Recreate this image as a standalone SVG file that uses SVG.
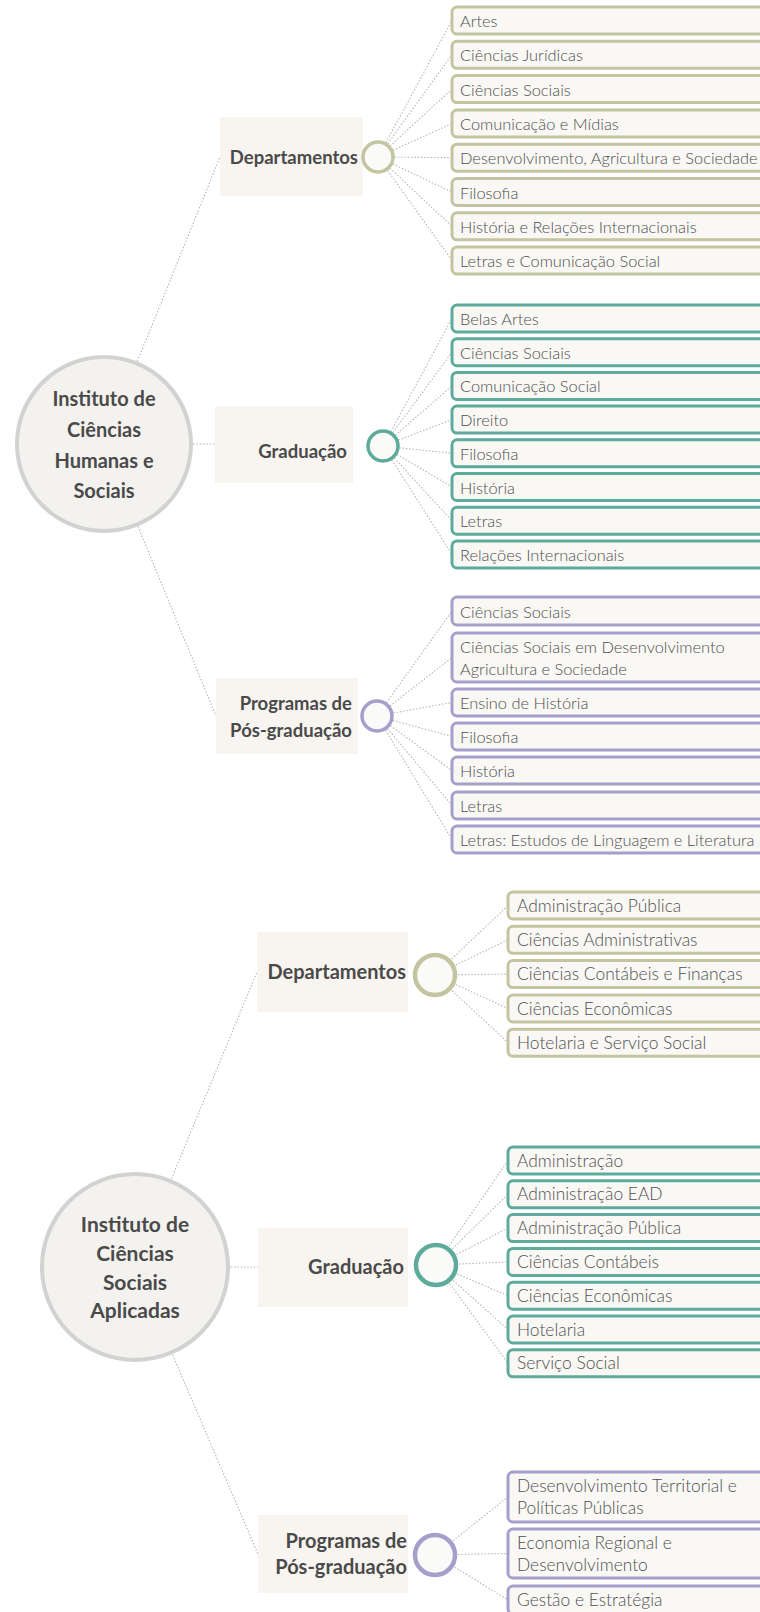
<svg xmlns="http://www.w3.org/2000/svg" width="760" height="1612" viewBox="0 0 760 1612">
  <style>
    .link { fill: none; stroke: #b5b5b5; stroke-width: 1.1; stroke-dasharray: 1.5 1.8; }
    .root { fill: #f4f2ef; stroke: #d2d2d2; stroke-width: 4; }
    .root-label { font-family: Lato, "Open Sans", sans-serif; font-weight: 700; fill: #4a4a4a; text-anchor: middle; }
    .branch { fill: #f8f5f1; }
    .branch-label { font-family: Lato, "Open Sans", sans-serif; font-weight: 700; fill: #4a4a4a; text-anchor: end; }
    .hub { fill: #fafaf8; stroke-width: 3.5; }
    .hub-lg { fill: #fafaf8; stroke-width: 4.5; }
    .leaf { fill: #f9f8f5; stroke-width: 3; }
    .leaf-label { font-family: Lato, "Open Sans", sans-serif; font-weight: 300; fill: #505050; }
    .s1 { font-size: 16.4px; }
    .s2 { font-size: 17.4px; }
    .olive { stroke: #c3c5a0; }
    .teal { stroke: #5eab9c; }
    .purple { stroke: #a69fcb; }
  </style>

  <!-- dotted connectors: drawn first so the nodes cover their ends -->
  <g id="connectors">
    <!-- Instituto de Ciências Humanas e Sociais -->
    <path class="link" d="M104 444 L220 157"/>
    <path class="link" d="M104 444 L215 444"/>
    <path class="link" d="M104 444 L216 716"/>
    <!-- Departamentos -->
    <path class="link" d="M378 157 L452 20.5"/>
    <path class="link" d="M378 157 L452 54.8"/>
    <path class="link" d="M378 157 L452 89.1"/>
    <path class="link" d="M378 157 L452 123.5"/>
    <path class="link" d="M378 157 L452 157.7"/>
    <path class="link" d="M378 157 L452 192"/>
    <path class="link" d="M378 157 L452 226.3"/>
    <path class="link" d="M378 157 L452 260.5"/>
    <!-- Graduação -->
    <path class="link" d="M383 446 L452 318.5"/>
    <path class="link" d="M383 446 L452 352.2"/>
    <path class="link" d="M383 446 L452 385.9"/>
    <path class="link" d="M383 446 L452 419.6"/>
    <path class="link" d="M383 446 L452 453.3"/>
    <path class="link" d="M383 446 L452 487"/>
    <path class="link" d="M383 446 L452 520.7"/>
    <path class="link" d="M383 446 L452 554.4"/>
    <!-- Programas de Pós-graduação -->
    <path class="link" d="M377 716 L452 611"/>
    <path class="link" d="M377 716 L452 657.5"/>
    <path class="link" d="M377 716 L452 702.5"/>
    <path class="link" d="M377 716 L452 736.5"/>
    <path class="link" d="M377 716 L452 770.5"/>
    <path class="link" d="M377 716 L452 805.5"/>
    <path class="link" d="M377 716 L452 839.5"/>

    <!-- Instituto de Ciências Sociais Aplicadas -->
    <path class="link" d="M135 1267 L257 972"/>
    <path class="link" d="M135 1267 L258 1267"/>
    <path class="link" d="M135 1267 L258 1554"/>
    <!-- Departamentos -->
    <path class="link" d="M435 975 L508 905.5"/>
    <path class="link" d="M435 975 L508 939.8"/>
    <path class="link" d="M435 975 L508 974.1"/>
    <path class="link" d="M435 975 L508 1008.5"/>
    <path class="link" d="M435 975 L508 1042.7"/>
    <!-- Graduação -->
    <path class="link" d="M436 1265 L508 1160.5"/>
    <path class="link" d="M436 1265 L508 1194.3"/>
    <path class="link" d="M436 1265 L508 1228.1"/>
    <path class="link" d="M436 1265 L508 1261.9"/>
    <path class="link" d="M436 1265 L508 1295.7"/>
    <path class="link" d="M436 1265 L508 1329.5"/>
    <path class="link" d="M436 1265 L508 1363.3"/>
    <!-- Programas de Pós-graduação -->
    <path class="link" d="M435 1555 L508 1497"/>
    <path class="link" d="M435 1555 L508 1553.5"/>
    <path class="link" d="M435 1555 L508 1600"/>
  </g>

  <!-- ===== Instituto de Ciências Humanas e Sociais ===== -->
  <g id="ichs">
    <circle class="root" cx="104" cy="444" r="87"/>
    <text class="root-label" font-size="20" x="104" y="406">Instituto de</text>
    <text class="root-label" font-size="20" x="104" y="437">Ciências</text>
    <text class="root-label" font-size="20" x="104" y="468">Humanas e</text>
    <text class="root-label" font-size="20" x="104" y="498">Sociais</text>
  </g>

  <g id="ichs-departamentos">
    <rect class="branch" x="220" y="117" width="143" height="79"/>
    <text class="branch-label" font-size="18.5" x="358" y="164">Departamentos</text>
    <circle class="hub olive" cx="378" cy="157" r="15"/>
  </g>
  <g id="ichs-dep-leaves">
    <g id="ichs-dep-1"><rect class="leaf olive" x="452" y="7" width="330" height="27" rx="5"/><text class="leaf-label s1" x="460" y="27">Artes</text></g>
    <g id="ichs-dep-2"><rect class="leaf olive" x="452" y="41.3" width="330" height="27" rx="5"/><text class="leaf-label s1" x="460" y="61.3">Ciências Jurídicas</text></g>
    <g id="ichs-dep-3"><rect class="leaf olive" x="452" y="75.6" width="330" height="27" rx="5"/><text class="leaf-label s1" x="460" y="95.6">Ciências Sociais</text></g>
    <g id="ichs-dep-4"><rect class="leaf olive" x="452" y="110" width="330" height="27" rx="5"/><text class="leaf-label s1" x="460" y="130">Comunicação e Mídias</text></g>
    <g id="ichs-dep-5"><rect class="leaf olive" x="452" y="144.2" width="330" height="27" rx="5"/><text class="leaf-label s1" x="460" y="164.2">Desenvolvimento, Agricultura e Sociedade</text></g>
    <g id="ichs-dep-6"><rect class="leaf olive" x="452" y="178.5" width="330" height="27" rx="5"/><text class="leaf-label s1" x="460" y="198.5">Filosofia</text></g>
    <g id="ichs-dep-7"><rect class="leaf olive" x="452" y="212.8" width="330" height="27" rx="5"/><text class="leaf-label s1" x="460" y="232.8">História e Relações Internacionais</text></g>
    <g id="ichs-dep-8"><rect class="leaf olive" x="452" y="247" width="330" height="27" rx="5"/><text class="leaf-label s1" x="460" y="267">Letras e Comunicação Social</text></g>
  </g>

  <g id="ichs-graduacao">
    <rect class="branch" x="215" y="406" width="138" height="77"/>
    <text class="branch-label" font-size="18.5" x="347" y="458">Graduação</text>
    <circle class="hub teal" cx="383" cy="446" r="15"/>
  </g>
  <g id="ichs-grad-leaves">
    <g id="ichs-grad-1"><rect class="leaf teal" x="452" y="305" width="330" height="27" rx="5"/><text class="leaf-label s1" x="460" y="325">Belas Artes</text></g>
    <g id="ichs-grad-2"><rect class="leaf teal" x="452" y="338.7" width="330" height="27" rx="5"/><text class="leaf-label s1" x="460" y="358.7">Ciências Sociais</text></g>
    <g id="ichs-grad-3"><rect class="leaf teal" x="452" y="372.4" width="330" height="27" rx="5"/><text class="leaf-label s1" x="460" y="392.4">Comunicação Social</text></g>
    <g id="ichs-grad-4"><rect class="leaf teal" x="452" y="406.1" width="330" height="27" rx="5"/><text class="leaf-label s1" x="460" y="426.1">Direito</text></g>
    <g id="ichs-grad-5"><rect class="leaf teal" x="452" y="439.8" width="330" height="27" rx="5"/><text class="leaf-label s1" x="460" y="459.8">Filosofia</text></g>
    <g id="ichs-grad-6"><rect class="leaf teal" x="452" y="473.5" width="330" height="27" rx="5"/><text class="leaf-label s1" x="460" y="493.5">História</text></g>
    <g id="ichs-grad-7"><rect class="leaf teal" x="452" y="507.2" width="330" height="27" rx="5"/><text class="leaf-label s1" x="460" y="527.2">Letras</text></g>
    <g id="ichs-grad-8"><rect class="leaf teal" x="452" y="540.9" width="330" height="27" rx="5"/><text class="leaf-label s1" x="460" y="560.9">Relações Internacionais</text></g>
  </g>

  <g id="ichs-pos">
    <rect class="branch" x="216" y="678" width="142" height="76"/>
    <text class="branch-label" font-size="18.5" x="352" y="710">Programas de</text>
    <text class="branch-label" font-size="18.5" x="352" y="737">Pós-graduação</text>
    <circle class="hub purple" cx="377" cy="716" r="15"/>
  </g>
  <g id="ichs-pos-leaves">
    <g id="ichs-pos-1"><rect class="leaf purple" x="452" y="597" width="330" height="28" rx="5"/><text class="leaf-label s1" x="460" y="617.5">Ciências Sociais</text></g>
    <g id="ichs-pos-2"><rect class="leaf purple" x="452" y="633" width="330" height="49" rx="5"/><text class="leaf-label s1" x="460" y="653">Ciências Sociais em Desenvolvimento</text><text class="leaf-label s1" x="460" y="675">Agricultura e Sociedade</text></g>
    <g id="ichs-pos-3"><rect class="leaf purple" x="452" y="689" width="330" height="27" rx="5"/><text class="leaf-label s1" x="460" y="709">Ensino de História</text></g>
    <g id="ichs-pos-4"><rect class="leaf purple" x="452" y="723" width="330" height="27" rx="5"/><text class="leaf-label s1" x="460" y="743">Filosofia</text></g>
    <g id="ichs-pos-5"><rect class="leaf purple" x="452" y="757" width="330" height="27" rx="5"/><text class="leaf-label s1" x="460" y="777">História</text></g>
    <g id="ichs-pos-6"><rect class="leaf purple" x="452" y="792" width="330" height="27" rx="5"/><text class="leaf-label s1" x="460" y="812">Letras</text></g>
    <g id="ichs-pos-7"><rect class="leaf purple" x="452" y="826" width="330" height="27" rx="5"/><text class="leaf-label s1" x="460" y="846">Letras: Estudos de Linguagem e Literatura</text></g>
  </g>

  <!-- ===== Instituto de Ciências Sociais Aplicadas ===== -->
  <g id="icsa">
    <circle class="root" cx="135" cy="1267" r="93"/>
    <text class="root-label" font-size="21" x="135" y="1232">Instituto de</text>
    <text class="root-label" font-size="21" x="135" y="1261">Ciências</text>
    <text class="root-label" font-size="21" x="135" y="1290">Sociais</text>
    <text class="root-label" font-size="21" x="135" y="1318">Aplicadas</text>
  </g>

  <g id="icsa-departamentos">
    <rect class="branch" x="257" y="932" width="151" height="80"/>
    <text class="branch-label" font-size="20" x="406" y="979">Departamentos</text>
    <circle class="hub-lg olive" cx="435" cy="975" r="20"/>
  </g>
  <g id="icsa-dep-leaves">
    <g id="icsa-dep-1"><rect class="leaf olive" x="508" y="892" width="280" height="27" rx="5"/><text class="leaf-label s2" x="517" y="911.5">Administração Pública</text></g>
    <g id="icsa-dep-2"><rect class="leaf olive" x="508" y="926.3" width="280" height="27" rx="5"/><text class="leaf-label s2" x="517" y="945.8">Ciências Administrativas</text></g>
    <g id="icsa-dep-3"><rect class="leaf olive" x="508" y="960.6" width="280" height="27" rx="5"/><text class="leaf-label s2" x="517" y="980.1">Ciências Contábeis e Finanças</text></g>
    <g id="icsa-dep-4"><rect class="leaf olive" x="508" y="995" width="280" height="27" rx="5"/><text class="leaf-label s2" x="517" y="1014.5">Ciências Econômicas</text></g>
    <g id="icsa-dep-5"><rect class="leaf olive" x="508" y="1029.2" width="280" height="27" rx="5"/><text class="leaf-label s2" x="517" y="1048.7">Hotelaria e Serviço Social</text></g>
  </g>

  <g id="icsa-graduacao">
    <rect class="branch" x="258" y="1228" width="150" height="79"/>
    <text class="branch-label" font-size="20" x="404" y="1274">Graduação</text>
    <circle class="hub-lg teal" cx="436" cy="1265" r="20"/>
  </g>
  <g id="icsa-grad-leaves">
    <g id="icsa-grad-1"><rect class="leaf teal" x="508" y="1147" width="280" height="27" rx="5"/><text class="leaf-label s2" x="517" y="1166.5">Administração</text></g>
    <g id="icsa-grad-2"><rect class="leaf teal" x="508" y="1180.8" width="280" height="27" rx="5"/><text class="leaf-label s2" x="517" y="1200.3">Administração EAD</text></g>
    <g id="icsa-grad-3"><rect class="leaf teal" x="508" y="1214.6" width="280" height="27" rx="5"/><text class="leaf-label s2" x="517" y="1234.1">Administração Pública</text></g>
    <g id="icsa-grad-4"><rect class="leaf teal" x="508" y="1248.4" width="280" height="27" rx="5"/><text class="leaf-label s2" x="517" y="1267.9">Ciências Contábeis</text></g>
    <g id="icsa-grad-5"><rect class="leaf teal" x="508" y="1282.2" width="280" height="27" rx="5"/><text class="leaf-label s2" x="517" y="1301.7">Ciências Econômicas</text></g>
    <g id="icsa-grad-6"><rect class="leaf teal" x="508" y="1316" width="280" height="27" rx="5"/><text class="leaf-label s2" x="517" y="1335.5">Hotelaria</text></g>
    <g id="icsa-grad-7"><rect class="leaf teal" x="508" y="1349.8" width="280" height="27" rx="5"/><text class="leaf-label s2" x="517" y="1369.3">Serviço Social</text></g>
  </g>

  <g id="icsa-pos">
    <rect class="branch" x="258" y="1515" width="150" height="78"/>
    <text class="branch-label" font-size="20" x="407" y="1548">Programas de</text>
    <text class="branch-label" font-size="20" x="407" y="1574">Pós-graduação</text>
    <circle class="hub-lg purple" cx="435" cy="1555" r="20"/>
  </g>
  <g id="icsa-pos-leaves">
    <g id="icsa-pos-1"><rect class="leaf purple" x="508" y="1472" width="280" height="50" rx="5"/><text class="leaf-label s2" x="517" y="1492">Desenvolvimento Territorial e</text><text class="leaf-label s2" x="517" y="1514">Políticas Públicas</text></g>
    <g id="icsa-pos-2"><rect class="leaf purple" x="508" y="1529" width="280" height="49" rx="5"/><text class="leaf-label s2" x="517" y="1549">Economia Regional e</text><text class="leaf-label s2" x="517" y="1571">Desenvolvimento</text></g>
    <g id="icsa-pos-3"><rect class="leaf purple" x="508" y="1586" width="280" height="28" rx="5"/><text class="leaf-label s2" x="517" y="1606">Gestão e Estratégia</text></g>
  </g>
</svg>
